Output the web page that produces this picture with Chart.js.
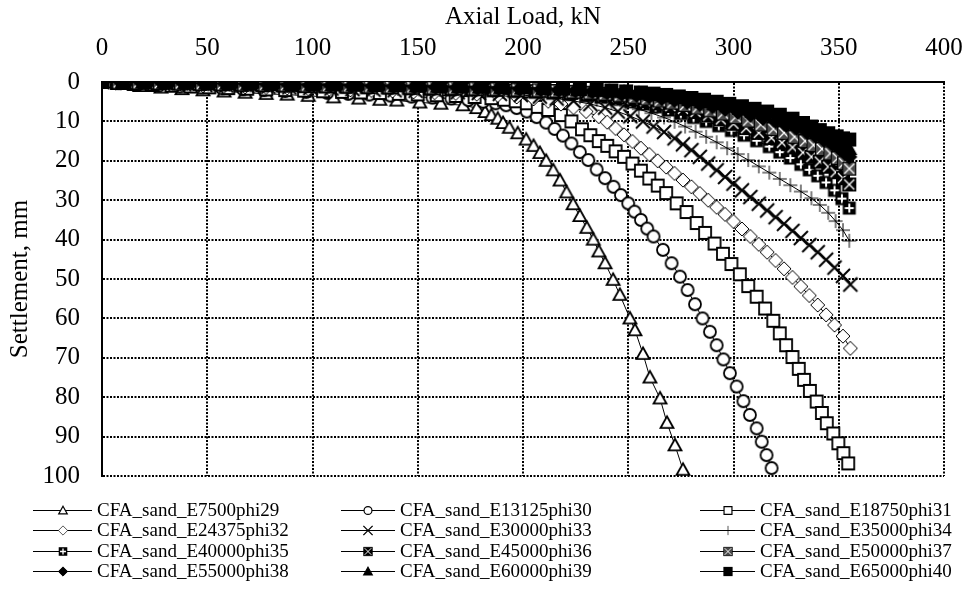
<!DOCTYPE html>
<html>
<head>
<meta charset="utf-8">
<title>Axial load vs settlement</title>
<script src="https://cdn.jsdelivr.net/npm/chart.js@4.4.0/dist/chart.umd.min.js"></script>
<style>
    html, body { margin: 0; padding: 0; background: #fff; }
    #wrap { position: relative; width: 973px; height: 598px; }
    #chart { position: absolute; left: 0; top: 0; }
    .leg {
        position: absolute; height: 20px; display: flex; align-items: center;
        font-family: "Liberation Serif", "Times New Roman", serif; font-size: 19px;
        color: #000; white-space: nowrap; line-height: 20px;
    }
    .leg canvas { display: block; }
</style>
</head>
<body>
<div id="wrap">
    <canvas id="chart" width="973" height="598"></canvas>
    <div id="legend"></div>
</div>
<script>
// ---------------------------------------------------------------------------
// Data: axial load (kN) and settlement (mm) per analysis
// ---------------------------------------------------------------------------

const load_E7500   = [0, 9, 18, 28, 38, 48, 58, 68, 78, 88, 98, 110, 122, 132, 140, 151, 161, 171.5, 178, 182, 185, 188, 190.5, 193.5, 197.5, 201.5, 205, 208, 211, 214.4, 217.6, 220.7, 223.8, 227, 230.3, 233.4, 236, 239, 242.8, 246, 250.8, 253.2, 257, 260.3, 265.1, 268.4, 272.2, 276];
const settle_E7500 = [0, 0.5, 1.0, 1.4, 1.8, 2.1, 2.4, 2.7, 3.0, 3.2, 3.5, 3.9, 4.2, 4.5, 4.7, 5.2, 5.5, 5.9, 6.6, 7.6, 8.4, 9.3, 10.4, 11.6, 13.0, 14.6, 16.2, 18.0, 20.0, 22.4, 25.0, 28.0, 31.0, 34.0, 37.0, 40.0, 43.0, 46.0, 50.2, 54.0, 60.0, 63.0, 69.0, 75.0, 80.3, 86.5, 92.2, 98.4];

const load_E13125   = [0, 8, 17, 27, 37, 47, 57, 67, 77, 87, 97, 107, 117, 127, 137, 147, 157, 166, 174, 181, 187, 192, 197, 201.8, 206.5, 211, 215, 219, 223, 227, 231, 235, 239, 243, 246.5, 250, 253, 256, 259, 262, 266.5, 270.6, 274.6, 278.2, 281.7, 285.3, 288.8, 292, 295.2, 298.3, 301.5, 304.7, 307.8, 311, 313.4, 315.7, 318.1];
const settle_E13125 = [0, 0.3, 0.6, 0.9, 1.15, 1.4, 1.6, 1.85, 2.05, 2.3, 2.5, 2.75, 3.0, 3.2, 3.45, 3.7, 3.95, 4.2, 4.6, 5.0, 5.4, 5.9, 6.6, 7.5, 8.9, 10.3, 11.9, 13.6, 15.6, 17.8, 19.8, 22.2, 24.4, 26.6, 28.7, 30.8, 32.9, 35.0, 37.2, 39.2, 42.6, 46.0, 49.4, 52.8, 56.4, 60.0, 63.4, 66.8, 70.4, 73.9, 77.3, 81.0, 84.5, 87.9, 91.3, 94.7, 98.0];

const load_E18750   = [0, 7, 15, 24, 33, 42, 51, 60, 69, 78, 87, 96, 105, 114, 123, 132, 141, 150, 159, 168, 177, 185, 191, 196.5, 201.8, 207, 212, 218, 223, 228, 232, 236, 240, 244, 248, 252, 256, 260, 264, 268, 273, 277.7, 282.5, 286.5, 291, 295, 299, 303, 307, 311, 315, 318.9, 322, 325, 328, 331, 333.5, 336.3, 339.5, 342, 344.3, 347.4, 349.8, 352.2, 354.5];
const settle_E18750 = [0, 0.25, 0.5, 0.75, 0.95, 1.15, 1.35, 1.55, 1.7, 1.9, 2.05, 2.2, 2.35, 2.5, 2.65, 2.8, 3.0, 3.15, 3.35, 3.55, 3.8, 4.1, 4.5, 4.9, 5.4, 6.3, 7.1, 8.4, 10.0, 12.0, 13.5, 15.0, 16.2, 17.6, 19.0, 20.7, 22.5, 24.5, 26.3, 28.2, 30.8, 33.0, 35.8, 38.3, 41.0, 43.6, 46.2, 48.8, 51.8, 54.5, 57.5, 60.6, 63.8, 66.8, 69.8, 72.8, 75.6, 78.4, 81.1, 84.0, 86.6, 89.2, 91.7, 94.2, 96.8];

const load_E24375   = [0, 8.5, 18, 28, 38, 48, 58, 68, 78, 88, 98, 108, 118, 128, 138, 148, 158, 168, 178, 188, 197, 205, 212, 218, 224, 230, 236, 240, 244, 248, 252, 256, 260, 264, 268, 272, 276, 280, 284, 288, 292, 296, 300, 304, 308, 312, 316, 320, 324, 328, 332, 336, 340, 344, 348, 352, 355.5];
const settle_E24375 = [0, 0.2, 0.4, 0.6, 0.8, 0.95, 1.1, 1.25, 1.4, 1.55, 1.7, 1.85, 2.0, 2.15, 2.3, 2.5, 2.7, 2.9, 3.1, 3.4, 3.8, 4.3, 4.9, 5.6, 6.5, 7.5, 8.8, 10.2, 11.8, 13.4, 15.1, 16.8, 18.4, 20.0, 21.6, 23.2, 24.9, 26.6, 28.3, 30.0, 31.8, 33.6, 35.4, 37.3, 39.2, 41.2, 43.2, 45.3, 47.4, 49.6, 51.9, 54.2, 56.6, 59.1, 61.7, 64.5, 67.6];

const load_E30000   = [0, 9.5, 19, 29, 39, 49, 59, 69, 79, 89, 99, 109, 119, 129, 139, 149, 159, 169, 179, 189, 199, 208, 216, 224, 232, 239, 245, 251, 257, 262, 267, 272, 276, 280, 284, 288, 292, 296, 300, 304, 308, 312, 316, 320, 324, 328, 332, 336, 340, 344, 348, 352, 355.5];
const settle_E30000 = [0, 0.15, 0.3, 0.45, 0.6, 0.75, 0.9, 1.05, 1.2, 1.35, 1.5, 1.65, 1.8, 1.95, 2.1, 2.25, 2.4, 2.6, 2.8, 3.0, 3.3, 3.7, 4.2, 4.8, 5.6, 6.5, 7.5, 8.7, 10.0, 11.3, 12.7, 14.3, 15.8, 17.3, 19.0, 20.7, 22.4, 24.1, 25.8, 27.5, 29.2, 30.9, 32.6, 34.3, 36.0, 37.8, 39.6, 41.4, 43.2, 45.1, 47.1, 49.2, 51.4];

const load_E35000   = [0, 10.5, 20.5, 30.5, 40.5, 50.5, 60.5, 70.5, 80.5, 90.5, 100.5, 110.5, 120.5, 130.5, 140.5, 150.5, 160.5, 170.5, 180.5, 190.5, 200.5, 210, 219, 227, 235, 242, 249, 255, 261, 267, 272, 277, 282, 287, 292, 297, 302, 307, 312, 317, 322, 327, 332, 337, 341, 345, 348.5, 352, 355];
const settle_E35000 = [0, 0.14, 0.27, 0.4, 0.52, 0.64, 0.76, 0.88, 1.0, 1.12, 1.24, 1.36, 1.48, 1.6, 1.73, 1.86, 2.0, 2.15, 2.3, 2.5, 2.7, 3.0, 3.4, 3.9, 4.5, 5.2, 6.0, 6.9, 7.9, 9.0, 10.1, 11.3, 12.6, 13.9, 15.3, 16.8, 18.3, 19.8, 21.4, 23.0, 24.6, 26.2, 27.8, 29.5, 31.2, 33.2, 35.3, 37.6, 40.3];

const load_E40000   = [0, 6.5, 15.5, 25.5, 35.5, 45.5, 55.5, 65.5, 75.5, 85.5, 95.5, 105.5, 115.5, 125.5, 135.5, 145.5, 155.5, 165.5, 175.5, 185.5, 195.5, 205.5, 214, 222, 230, 237, 244, 251, 257, 263, 269, 275, 281, 287, 293, 299, 305, 311, 317, 322, 327, 332, 336, 340, 344, 348, 351.5, 355];
const settle_E40000 = [0, 0.08, 0.2, 0.32, 0.44, 0.55, 0.66, 0.77, 0.88, 0.99, 1.1, 1.21, 1.32, 1.43, 1.55, 1.67, 1.8, 1.93, 2.07, 2.22, 2.4, 2.6, 2.85, 3.15, 3.5, 3.9, 4.4, 5.0, 5.6, 6.3, 7.1, 8.0, 9.0, 10.0, 11.1, 12.3, 13.5, 14.9, 16.4, 17.8, 19.3, 20.9, 22.3, 23.8, 25.5, 27.5, 29.6, 32.0];

const load_E45000   = [0, 7.5, 16.5, 26.5, 36.5, 46.5, 56.5, 66.5, 76.5, 86.5, 96.5, 106.5, 116.5, 126.5, 136.5, 146.5, 156.5, 166.5, 176.5, 186.5, 196.5, 206.5, 215, 223, 231, 238, 245, 252, 258, 264, 270, 276, 282, 288, 294, 300, 306, 312, 318, 323, 328, 333, 337, 341, 345, 348.5, 352, 355];
const settle_E45000 = [0, 0.07, 0.17, 0.27, 0.37, 0.47, 0.57, 0.67, 0.77, 0.87, 0.97, 1.07, 1.17, 1.27, 1.38, 1.49, 1.6, 1.72, 1.85, 1.99, 2.15, 2.32, 2.52, 2.75, 3.05, 3.4, 3.8, 4.3, 4.85, 5.45, 6.1, 6.8, 7.6, 8.5, 9.5, 10.6, 11.7, 12.9, 14.2, 15.4, 16.6, 17.9, 19.0, 20.2, 21.5, 22.9, 24.4, 26.0];

const load_E50000   = [0, 8, 17.5, 27.5, 37.5, 47.5, 57.5, 67.5, 77.5, 87.5, 97.5, 107.5, 117.5, 127.5, 137.5, 147.5, 157.5, 167.5, 177.5, 187.5, 197.5, 207.5, 216, 224, 232, 239, 246, 253, 259, 265, 271, 277, 283, 289, 295, 301, 307, 313, 319, 324, 329, 334, 338, 342, 346, 349.5, 352.5, 355];
const settle_E50000 = [0, 0.06, 0.15, 0.24, 0.33, 0.42, 0.51, 0.6, 0.69, 0.78, 0.87, 0.96, 1.05, 1.14, 1.24, 1.34, 1.44, 1.55, 1.67, 1.8, 1.94, 2.1, 2.28, 2.48, 2.72, 3.0, 3.35, 3.75, 4.2, 4.7, 5.25, 5.85, 6.5, 7.2, 8.0, 8.9, 9.8, 10.8, 11.9, 12.9, 13.9, 15.0, 16.0, 17.0, 18.1, 19.3, 20.6, 22.0];

const load_E55000   = [0, 9, 18.5, 28.5, 38.5, 48.5, 58.5, 68.5, 78.5, 88.5, 98.5, 108.5, 118.5, 128.5, 138.5, 148.5, 158.5, 168.5, 178.5, 188.5, 198.5, 208.5, 217, 225, 233, 240, 247, 254, 260, 266, 272, 278, 284, 290, 296, 302, 308, 314, 320, 325, 330, 335, 339, 343, 347, 350.5, 353, 355];
const settle_E55000 = [0, 0.06, 0.13, 0.21, 0.29, 0.37, 0.45, 0.53, 0.61, 0.69, 0.77, 0.85, 0.93, 1.01, 1.1, 1.19, 1.28, 1.38, 1.49, 1.61, 1.74, 1.88, 2.04, 2.22, 2.43, 2.68, 2.97, 3.32, 3.7, 4.13, 4.6, 5.1, 5.65, 6.25, 6.9, 7.6, 8.35, 9.15, 10.0, 10.9, 11.8, 12.8, 13.7, 14.7, 15.8, 17.0, 18.0, 19.0];

const load_E60000   = [0, 10, 19.5, 29.5, 39.5, 49.5, 59.5, 69.5, 79.5, 89.5, 99.5, 109.5, 119.5, 129.5, 139.5, 149.5, 159.5, 169.5, 179.5, 189.5, 199.5, 209.5, 218, 226, 234, 241, 248, 255, 261, 267, 273, 279, 285, 291, 297, 303, 309, 315, 321, 326, 331, 336, 340, 344, 348, 351.5, 355];
const settle_E60000 = [0, 0.05, 0.12, 0.19, 0.26, 0.33, 0.4, 0.47, 0.54, 0.61, 0.68, 0.75, 0.82, 0.9, 0.98, 1.06, 1.14, 1.23, 1.33, 1.44, 1.56, 1.69, 1.83, 1.99, 2.18, 2.4, 2.65, 2.95, 3.3, 3.68, 4.1, 4.55, 5.05, 5.6, 6.2, 6.85, 7.55, 8.3, 9.1, 9.9, 10.8, 11.8, 12.7, 13.7, 14.8, 15.8, 17.0];

const load_E65000   = [0, 9.8, 20.2, 30.2, 40.2, 50.2, 60.2, 70.2, 80.2, 90.2, 100.2, 110.2, 120.2, 130.2, 140.2, 150.2, 160.2, 170.2, 180.2, 190.2, 200.2, 210.2, 219, 227, 235, 242, 249, 256, 262, 268, 274, 280, 286, 292, 298, 304, 310, 316, 322, 328, 333, 337, 341, 345, 349, 352, 355];
const settle_E65000 = [0, 0.05, 0.1, 0.16, 0.22, 0.28, 0.34, 0.4, 0.46, 0.52, 0.58, 0.64, 0.71, 0.78, 0.85, 0.92, 1.0, 1.08, 1.17, 1.27, 1.38, 1.5, 1.63, 1.78, 1.95, 2.15, 2.38, 2.65, 2.95, 3.28, 3.65, 4.05, 4.5, 5.0, 5.55, 6.15, 6.8, 7.5, 8.3, 9.3, 10.4, 11.3, 12.2, 13.0, 13.8, 14.3, 14.6];

const seriesNames = [
    'CFA_sand_E7500phi29',  'CFA_sand_E13125phi30', 'CFA_sand_E18750phi31',
    'CFA_sand_E24375phi32', 'CFA_sand_E30000phi33', 'CFA_sand_E35000phi34',
    'CFA_sand_E40000phi35', 'CFA_sand_E45000phi36', 'CFA_sand_E50000phi37',
    'CFA_sand_E55000phi38', 'CFA_sand_E60000phi39', 'CFA_sand_E65000phi40',
];
const seriesLoads   = [load_E7500, load_E13125, load_E18750, load_E24375, load_E30000, load_E35000,
                       load_E40000, load_E45000, load_E50000, load_E55000, load_E60000, load_E65000];
const seriesSettles = [settle_E7500, settle_E13125, settle_E18750, settle_E24375, settle_E30000, settle_E35000,
                       settle_E40000, settle_E45000, settle_E50000, settle_E55000, settle_E60000, settle_E65000];

const loadTicks   = [0, 400, 50];   // min, max, step
const settleTicks = [0, 100, 10];

const markerKinds = ['tri', 'circle', 'square', 'diamond', 'x', 'plus',
                     'sqplus', 'sqx', 'sqxgray', 'fdiamond', 'ftri', 'fsquare'];

const FONT = '"Liberation Serif", "Times New Roman", serif';

// ---------------------------------------------------------------------------
// Markers (drawn once into small canvases, used as pointStyle)
// ---------------------------------------------------------------------------

function drawMarker(g, kind, cx, cy, k) {
    const h = 6.5 * k;
    g.save();
    g.lineJoin = 'miter';
    g.strokeStyle = '#000';
    g.fillStyle = '#fff';
    g.beginPath();
    switch (kind) {
        case 'tri':
        case 'ftri':
            g.moveTo(cx, cy - h);
            g.lineTo(cx + h, cy + h * 0.8);
            g.lineTo(cx - h, cy + h * 0.8);
            g.closePath();
            if (kind === 'ftri') g.fillStyle = '#000';
            g.fill();
            g.lineWidth = 1.8 * k;
            g.stroke();
            break;
        case 'circle':
            g.arc(cx, cy, h - 0.5 * k, 0, Math.PI * 2);
            g.fill();
            g.lineWidth = 1.8 * k;
            g.stroke();
            break;
        case 'square':
            g.rect(cx - h + 0.5 * k, cy - h + 0.5 * k, 2 * h - k, 2 * h - k);
            g.fill();
            g.lineWidth = 1.8 * k;
            g.stroke();
            break;
        case 'diamond':
        case 'fdiamond': {
            const d = h + 0.5 * k;
            g.moveTo(cx, cy - d);
            g.lineTo(cx + d, cy);
            g.lineTo(cx, cy + d);
            g.lineTo(cx - d, cy);
            g.closePath();
            if (kind === 'fdiamond') g.fillStyle = '#000';
            g.fill();
            g.lineWidth = (kind === 'fdiamond' ? 1.5 : 1) * k;
            g.stroke();
            break;
        }
        case 'x': {
            const d = h + 0.5 * k;
            g.moveTo(cx - d, cy - d); g.lineTo(cx + d, cy + d);
            g.moveTo(cx + d, cy - d); g.lineTo(cx - d, cy + d);
            g.lineWidth = 2 * k;
            g.stroke();
            break;
        }
        case 'plus': {
            const d = h + 0.5 * k;
            g.moveTo(cx - d, cy); g.lineTo(cx + d, cy);
            g.moveTo(cx, cy - d); g.lineTo(cx, cy + d);
            g.lineWidth = 1 * k;
            g.stroke();
            break;
        }
        case 'sqplus': {
            g.fillStyle = '#000';
            g.fillRect(cx - h, cy - h, 2 * h, 2 * h);
            const d = h - 2 * k;
            g.strokeStyle = '#fff';
            g.lineWidth = 2 * k;
            g.moveTo(cx - d, cy); g.lineTo(cx + d, cy);
            g.moveTo(cx, cy - d); g.lineTo(cx, cy + d);
            g.stroke();
            break;
        }
        case 'sqx':
        case 'sqxgray': {
            g.fillStyle = kind === 'sqx' ? '#000' : '#4a4a4a';
            g.fillRect(cx - h, cy - h, 2 * h, 2 * h);
            g.lineWidth = 1 * k;
            g.strokeRect(cx - h, cy - h, 2 * h, 2 * h);
            const d = h - 1.5 * k;
            g.beginPath();
            g.strokeStyle = '#fff';
            g.lineWidth = 1.4 * k;
            g.moveTo(cx - d, cy - d); g.lineTo(cx + d, cy + d);
            g.moveTo(cx + d, cy - d); g.lineTo(cx - d, cy + d);
            g.stroke();
            break;
        }
        case 'fsquare':
            g.fillStyle = '#000';
            g.fillRect(cx - h - 0.5 * k, cy - h - 0.5 * k, 2 * h + k, 2 * h + k);
            break;
    }
    g.restore();
}

function markerCanvas(kind) {
    const c = document.createElement('canvas');
    c.width = 20;
    c.height = 20;
    drawMarker(c.getContext('2d'), kind, 10, 10, 1);
    return c;
}

// ---------------------------------------------------------------------------
// Chart
// ---------------------------------------------------------------------------

const datasets = seriesNames.map((name, i) => ({
    label: name,
    data: seriesLoads[i].map((x, j) => ({ x, y: seriesSettles[i][j] })),
    showLine: true,
    borderColor: '#000',
    borderWidth: 1,
    pointStyle: markerCanvas(markerKinds[i]),
    pointRadius: 7,
    pointHoverRadius: 7,
    order: seriesNames.length - 1 - i,   // later series drawn on top
}));

const axisFont  = { family: FONT, size: 25 };
// tall line box puts the top tick labels ~34px above the plot without tick padding
// (tick padding would also widen the right margin)
const xTickFont = { family: FONT, size: 25, lineHeight: 2.7 };

new Chart(document.getElementById('chart'), {
    type: 'scatter',
    data: { datasets },
    options: {
        responsive: false,
        animation: false,
        devicePixelRatio: 1,
        layout: { padding: { left: 0, right: 29, top: 0, bottom: 122 } },
        plugins: {
            legend: { display: false },
            tooltip: { enabled: false },
        },
        scales: {
            x: {
                type: 'linear',
                position: 'top',
                min: loadTicks[0],
                max: loadTicks[1],
                ticks: { stepSize: loadTicks[2], padding: 0, color: '#000', font: xTickFont },
                grid: { color: '#000', lineWidth: 2, drawTicks: false },
                border: { display: true, color: '#000', width: 2, dash: [2, 1.5] },
                title: {
                    display: true, text: 'Axial Load, kN', color: '#000',
                    font: axisFont, padding: { top: 2, bottom: 0 },
                },
                afterFit: s => { s.height = 82; },
            },
            y: {
                type: 'linear',
                reverse: true,
                min: settleTicks[0],
                max: settleTicks[1],
                ticks: { stepSize: settleTicks[2], padding: 22, color: '#000', font: axisFont },
                grid: { color: '#000', lineWidth: 2, drawTicks: false },
                border: { display: true, color: '#000', width: 2, dash: [2, 1.5] },
                title: {
                    display: true, text: 'Settlement, mm', color: '#000',
                    font: axisFont, padding: { top: 5, bottom: 0 },
                },
                afterFit: s => { s.width = 102; },
            },
        },
    },
});

// ---------------------------------------------------------------------------
// Legend (3 columns x 4 rows under the plot)
// ---------------------------------------------------------------------------

const legendIconLeft = [33, 341, 700];
const legendTextLeft = [97, 400, 760];
const legendRowMid   = [510, 530, 551, 571];

const legendEl = document.getElementById('legend');
seriesNames.forEach((name, i) => {
    const col = i % 3;
    const row = Math.floor(i / 3);
    const w = legendTextLeft[col] - legendIconLeft[col] - 5;

    const icon = document.createElement('canvas');
    icon.width = w;
    icon.height = 20;
    const g = icon.getContext('2d');
    g.strokeStyle = '#000';
    g.lineWidth = 1;
    g.beginPath();
    g.moveTo(0, 10.5);
    g.lineTo(w, 10.5);
    g.stroke();
    drawMarker(g, markerKinds[i], Math.round(w / 2), 10.5, 0.66);

    const item = document.createElement('div');
    item.className = 'leg';
    item.style.left = legendIconLeft[col] + 'px';
    item.style.top = (legendRowMid[row] - 10) + 'px';
    const label = document.createElement('span');
    label.style.marginLeft = '5px';
    label.textContent = name;
    item.appendChild(icon);
    item.appendChild(label);
    legendEl.appendChild(item);
});
</script>
</body>
</html>
